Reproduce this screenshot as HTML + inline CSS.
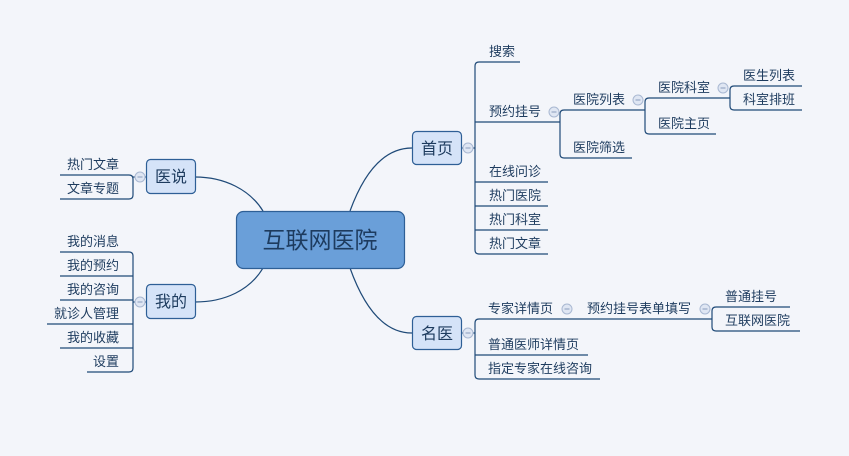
<!DOCTYPE html>
<html><head><meta charset="utf-8"><style>
html,body{margin:0;padding:0;background:#f3f5fa;}
svg{display:block;}
text{font-family:"Liberation Sans","Noto Sans CJK SC",sans-serif;fill:#1d3b5e;}
.l{font-size:13px;}
</style></head><body>
<svg width="849" height="456" viewBox="0 0 849 456" xmlns="http://www.w3.org/2000/svg">
<rect width="849" height="456" fill="#f3f5fa"/>
<g fill="none" stroke="#1f4a78" stroke-width="1.2">
<path d="M350 211 C365 170 385 148 412 148"/>
<path d="M350 268 C365 310 385 333 412 333"/>
<path d="M263 211 C250 190 225 177 195 177"/>
<path d="M263 268 C250 290 225 302 195 302"/>
<path d="M461 148 H475"/>
<path d="M520 62 H479 Q475 62 475 66 V250 Q475 254 479 254 H548"/>
<path d="M475 122 H560"/>
<path d="M475 182 H548 M475 206 H548 M475 230 H548"/>
<path d="M560 122 V114 Q560 110 564 110 H645 M560 122 V154 Q560 158 564 158 H632"/>
<path d="M645 110 V102 Q645 98 649 98 H730 M645 110 V130 Q645 134 649 134 H716"/>
<path d="M730 98 V90 Q730 86 734 86 H802 M730 98 V106 Q730 110 734 110 H802"/>
<path d="M461 333 H475"/>
<path d="M712 319 H479 Q475 319 475 323 V375 Q475 379 479 379 H600"/>
<path d="M475 355 H588"/>
<path d="M712 319 V311 Q712 307 716 307 H790 M712 319 V327 Q712 331 716 331 H800"/>
<path d="M146 177 H133"/>
<path d="M60 175 H129 Q133 175 133 179 V195 Q133 199 129 199 H60"/>
<path d="M146 302 H133"/>
<path d="M60 252 H129 Q133 252 133 256 V368 Q133 372 129 372 H87"/>
<path d="M60 276 H133 M60 300 H133 M47 324 H133 M60 348 H133"/>
</g>
<g fill="#dfe6f3" stroke="#a9b8d2" stroke-width="1">
<circle cx="468" cy="148" r="5"/><circle cx="468" cy="333" r="5"/>
<circle cx="140" cy="177" r="5"/><circle cx="140" cy="302" r="5"/>
<circle cx="554" cy="112" r="5"/><circle cx="638" cy="100" r="5"/>
<circle cx="723" cy="88" r="5"/><circle cx="567" cy="309" r="5"/>
<circle cx="705" cy="309" r="5"/>
</g>
<g stroke="#8a9cbc" stroke-width="1">
<path d="M465.5 148h5M465.5 333h5M137.5 177h5M137.5 302h5M551.5 112h5M635.5 100h5M720.5 88h5M564.5 309h5M702.5 309h5"/>
</g>
<rect x="236.5" y="211.5" width="168" height="57" rx="7" fill="#6a9fd9" stroke="#2e5f96" stroke-width="1.2"/>
<text x="320" y="248" font-size="23" text-anchor="middle" fill="#1d3b5e">互联网医院</text>
<g fill="#d5e3f8" stroke="#2e5f96" stroke-width="1.2">
<rect x="412.5" y="131.5" width="49" height="33" rx="4"/>
<rect x="412.5" y="316.5" width="49" height="33" rx="4"/>
<rect x="146.5" y="159.5" width="49" height="34" rx="4"/>
<rect x="146.5" y="284.5" width="49" height="34" rx="4"/>
</g>
<g font-size="16" text-anchor="middle">
<text x="437" y="154">首页</text><text x="437" y="339">名医</text>
<text x="171" y="182">医说</text><text x="171" y="307">我的</text>
</g>
<g class="l">
<text x="489" y="56">搜索</text>
<text x="489" y="116">预约挂号</text>
<text x="489" y="176">在线问诊</text>
<text x="489" y="200">热门医院</text>
<text x="489" y="224">热门科室</text>
<text x="489" y="248">热门文章</text>
<text x="573" y="104">医院列表</text>
<text x="573" y="152">医院筛选</text>
<text x="658" y="92">医院科室</text>
<text x="658" y="128">医院主页</text>
<text x="743" y="80">医生列表</text>
<text x="743" y="104">科室排班</text>
<text x="488" y="313">专家详情页</text>
<text x="587" y="313">预约挂号表单填写</text>
<text x="725" y="301">普通挂号</text>
<text x="725" y="325">互联网医院</text>
<text x="488" y="349">普通医师详情页</text>
<text x="488" y="373">指定专家在线咨询</text>
</g>
<g class="l" text-anchor="end">
<text x="119" y="169">热门文章</text>
<text x="119" y="193">文章专题</text>
<text x="119" y="246">我的消息</text>
<text x="119" y="270">我的预约</text>
<text x="119" y="294">我的咨询</text>
<text x="119" y="318">就诊人管理</text>
<text x="119" y="342">我的收藏</text>
<text x="119" y="366">设置</text>
</g>
</svg>
</body></html>
